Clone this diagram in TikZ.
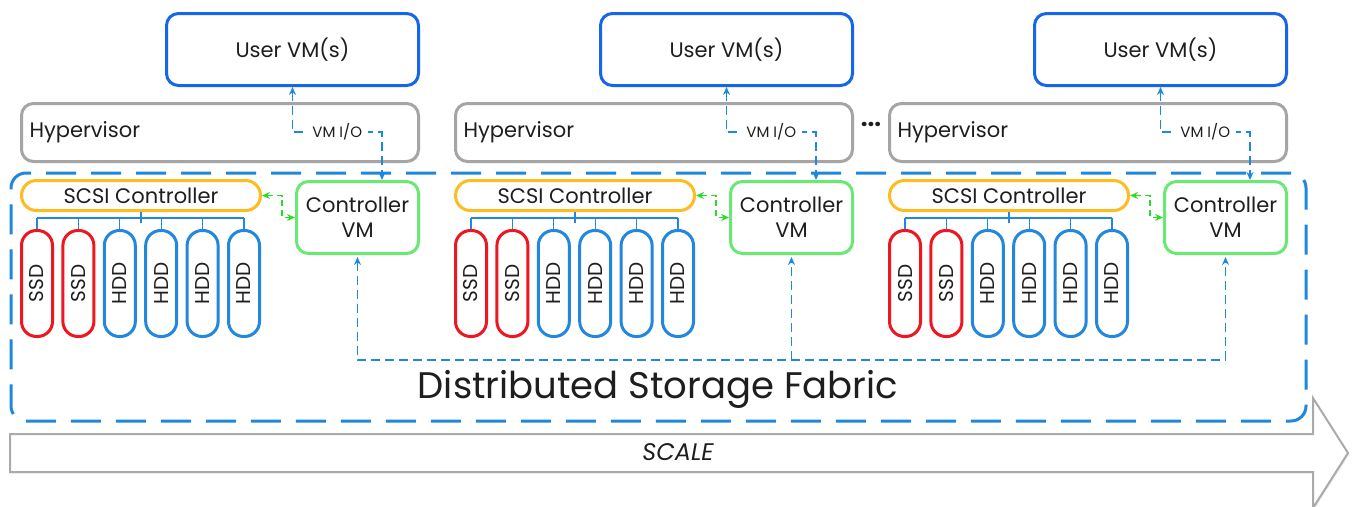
\documentclass[tikz,border=0pt]{standalone}
\usepackage{fontspec}
\setmainfont{Poppins}
\usepackage{tikz}
\usetikzlibrary{positioning,arrows.meta,shadows}
\definecolor{vmblue}{RGB}{22,102,235}
\definecolor{hypgray}{RGB}{165,165,165}
\definecolor{scsiorange}{RGB}{255,188,30}
\definecolor{cvmgreen}{RGB}{105,232,115}
\definecolor{ssdred}{RGB}{238,22,32}
\definecolor{hddblue}{RGB}{35,135,222}
\definecolor{fabblue}{RGB}{30,135,222}
\definecolor{linkgreen}{RGB}{40,220,40}
\definecolor{scalegray}{RGB}{170,170,170}
\definecolor{textblack}{RGB}{30,30,30}
\tikzset{box node/.style={draw,fill=white,rounded corners=12pt,line width=3pt,inner sep=0pt,
    text=textblack,align=center,font=\fontsize{21}{25}\selectfont,
    drop shadow={opacity=0.12,shadow xshift=1.5pt,shadow yshift=-1.5pt}},
  vm node/.style={box node,draw=vmblue,minimum width=252pt,minimum height=72pt},
  hyp node/.style={box node,draw=hypgray,minimum height=58pt,text width=381pt,inner xsep=8pt,align=left},
  scsi node/.style={box node,draw=scsiorange,rounded corners=15pt,minimum width=239pt,minimum height=30pt},
  cvm node/.style={box node,draw=cvmgreen,minimum width=122pt,minimum height=72pt},
  disk node/.style={box node,rotate=90,rounded corners=15pt,minimum width=106pt,minimum height=31pt,font=\fontsize{20}{24}\selectfont},
  fabric node/.style={draw=fabblue,line width=3pt,rounded corners=15pt,dash pattern=on 30pt off 15pt,
    minimum width=1295pt,minimum height=248pt,inner sep=0pt},
  bus line/.style={draw=hddblue,line width=1.2pt},
  io link/.style={draw=fabblue,line width=1.4pt,dash pattern=on 9pt off 5pt,{Stealth[length=8pt,width=7pt]}-{Stealth[length=8pt,width=7pt]}},
  io label/.style={fill=white,inner xsep=6pt,inner ysep=2pt,text=textblack,font=\fontsize{15}{17}\selectfont},
  ctl link/.style={draw=linkgreen,line width=1.4pt,dash pattern=on 6pt off 4pt,{Stealth[length=8pt,width=7pt]}-{Stealth[length=8pt,width=7pt]}},
  fab link/.style={draw=fabblue,line width=1.4pt,dash pattern=on 9pt off 5pt,shorten >=2pt},
  scale arrow/.style={draw=scalegray,fill=white,line width=2pt,
    drop shadow={opacity=0.12,shadow xshift=1.5pt,shadow yshift=-1.5pt}},
}

\begin{document}
\begin{tikzpicture}[x=1pt,y=-1pt]
\useasboundingbox (0,0) rectangle (1357,506);

% scale arrow along the bottom
\draw[scale arrow] (10,434) -- (1313,434) -- (1313,398) -- (1348,453) -- (1313,508)
  -- (1313,472) -- (10,472) -- cycle;
\node[text=textblack,font=\fontsize{24}{28}\selectfont\itshape] (scaletxt) at (678,452) {SCALE};

% storage fabric
\node[fabric node] (fabric) at (658.5,297) {};
\node[text=textblack,font=\fontsize{37}{42}\selectfont] (fablabel) at (658,389) {Distributed Storage Fabric};

\foreach \i/\o in {1/0,2/434,3/868}{
\begin{scope}[xshift=\o]
\node[vm node] (vm\i) at (292.5,49.5) {User VM(s)};
\node[hyp node] (hyp\i) at (220,132.5) {Hypervisor};
\node[scsi node] (scsi\i) at (141,195.5) {SCSI Controller};
\node[cvm node] (cvm\i) at (357.5,217.5) {Controller\\VM};
\foreach \j/\t/\c in {0/SSD/ssdred,1/SSD/ssdred,2/HDD/hddblue,3/HDD/hddblue,4/HDD/hddblue,5/HDD/hddblue}
  \node[disk node,draw=\c] (d\i\j) at (37+41.4*\j,283.5) {\t};

% disk bus
\coordinate (bus\i) at (141,218);
\draw[bus line] (d\i0.east |- bus\i) -- (d\i5.east |- bus\i);
\draw[bus line] (scsi\i.south) -- ++(0,11);
\foreach \j in {0,...,5}
  \draw[bus line] (d\i\j.east |- bus\i) -- (d\i\j.east);

% VM I/O
\coordinate (io\i) at (382,132);
\draw[io link] (vm\i.south) -- (vm\i.south |- io\i) -- node[io label] {VM I/O} (io\i) -- (io\i |- cvm\i.north);

% controller VM <-> SCSI controller
\coordinate (sw\i) at (282,205);
\draw[ctl link] (scsi\i.east) -- (scsi\i.east -| sw\i) -- (sw\i |- cvm\i.west) -- (cvm\i.west);
\end{scope}
}

\node[text=textblack,font=\fontsize{24}{28}\selectfont\bfseries] (dots) at (871,124) {...};

% links through the fabric
\coordinate (fab) at (0,360);
\draw[fab link,{Stealth[length=8pt,width=7pt]}-{Stealth[length=8pt,width=7pt]},shorten <=2pt]
  (cvm1.south) -- (cvm1.south |- fab) -- (cvm3.south |- fab) -- (cvm3.south);
\draw[fab link,-{Stealth[length=8pt,width=7pt]}] (cvm2.south |- fab) -- (cvm2.south);
\end{tikzpicture}
\end{document}
